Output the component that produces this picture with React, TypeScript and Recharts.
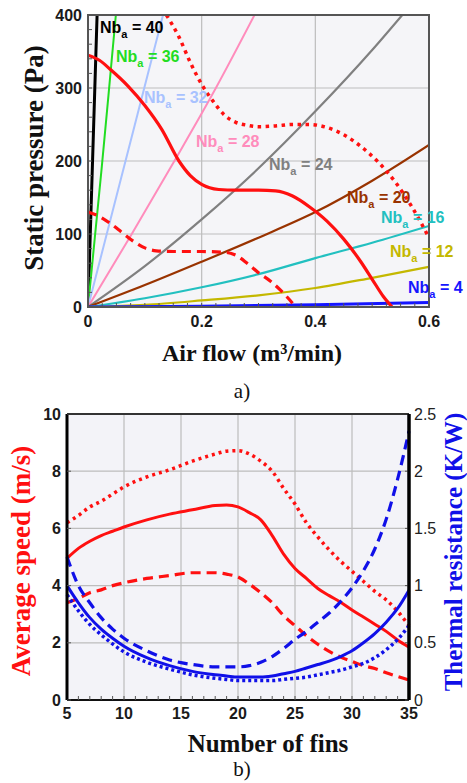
import { LineChart, Line, XAxis, YAxis, CartesianGrid } from "recharts"

// ---- a) fan curves vs. system curves ----
const flowTicks = [0, 0.2, 0.4, 0.6]
const flowMinorTicks = [
  0, 0.025, 0.05, 0.075, 0.1, 0.125, 0.15, 0.175, 0.2, 0.225, 0.25, 0.275, 0.3,
  0.325, 0.35, 0.375, 0.4, 0.425, 0.45, 0.475, 0.5, 0.525, 0.55, 0.575, 0.6,
]
const pressureTicks = [0, 100, 200, 300, 400]
const pressureMinorTicks = [
  0, 20, 40, 60, 80, 100, 120, 140, 160, 180, 200, 220, 240, 260, 280, 300, 320, 340, 360, 380, 400,
]

// [air flow m3/min, static pressure Pa]
const nb40 = [[0, 0], [0.004, 100], [0.008, 200], [0.012, 300], [0.016, 400]]
const nb36 = [[0, 0], [0.012, 95], [0.024, 190], [0.036, 290], [0.049, 400]]
const nb32 = [[0, 0], [0.033, 100], [0.066, 200], [0.099, 300], [0.132, 400]]
const nb28 = [[0, 0], [0.077, 100], [0.152, 200], [0.225, 300], [0.293, 400]]
const nb24 = [[0, 0], [0.1, 56], [0.2, 120], [0.3, 190], [0.4, 268], [0.5, 352], [0.553, 400]]
const nb20 = [[0, 0], [0.1, 30], [0.2, 62], [0.3, 95], [0.4, 130], [0.5, 173], [0.6, 222]]
const nb16 = [[0, 0], [0.1, 12], [0.2, 27], [0.3, 45], [0.4, 67], [0.5, 88], [0.6, 111]]
const nb12 = [[0, 0], [0.1, 3], [0.2, 9], [0.3, 16], [0.4, 26], [0.5, 40], [0.6, 55]]
const nb4 = [[0, 0], [0.2, 1], [0.4, 3], [0.6, 6]]

const fanSolid = [
  [0, 345], [0.02, 338], [0.04, 325], [0.07, 303], [0.1, 276], [0.13, 243], [0.16, 200],
  [0.18, 180], [0.2, 168], [0.23, 161], [0.26, 160], [0.3, 160], [0.33, 159], [0.36, 152],
  [0.39, 137], [0.42, 118], [0.45, 93], [0.48, 62], [0.5, 38], [0.52, 14], [0.535, 0],
]
const fanDotted = [
  [0.138, 400], [0.16, 370], [0.18, 335], [0.2, 305], [0.22, 282], [0.24, 263], [0.26, 253],
  [0.28, 249], [0.3, 247], [0.33, 248], [0.36, 250], [0.39, 250], [0.42, 246], [0.45, 236],
  [0.48, 220], [0.51, 199], [0.54, 172], [0.57, 137], [0.6, 95],
]
const fanDashed = [
  [0, 130], [0.02, 124], [0.04, 114], [0.06, 102], [0.08, 90], [0.1, 81], [0.12, 77],
  [0.15, 76], [0.2, 76], [0.24, 75], [0.26, 71], [0.28, 60], [0.3, 47], [0.32, 36],
  [0.34, 22], [0.36, 5], [0.365, 0],
]

// ---- b) speed and thermal resistance vs. number of fins ----
const fins = [5, 6, 7, 8, 9, 10, 12, 14, 16, 18, 19, 20, 21, 22, 23, 24, 25, 26, 27, 28, 29, 30, 31, 32, 33, 34, 35]
const finTicks = [5, 10, 15, 20, 25, 30, 35]
const finMinorTicks = [
  5, 6, 7, 8, 9, 10, 11, 12, 13, 14, 15, 16, 17, 18, 19, 20, 21, 22, 23, 24, 25, 26, 27, 28, 29, 30, 31, 32, 33, 34, 35,
]
const speedTicks = [0, 2, 4, 6, 8, 10]
const resistanceTicks = [0, 0.5, 1, 1.5, 2, 2.5]

const speedSolid = [4.95, 5.3, 5.55, 5.75, 5.9, 6.05, 6.3, 6.5, 6.65, 6.8, 6.82, 6.75, 6.55, 6.3, 5.75, 5.1, 4.6, 4.25, 3.9, 3.65, 3.42, 3.15, 2.9, 2.65, 2.4, 2.1, 1.85]
const speedDotted = [6.2, 6.45, 6.75, 6.95, 7.2, 7.45, 7.8, 8.05, 8.35, 8.6, 8.7, 8.72, 8.6, 8.35, 8.0, 7.4, 6.85, 6.2, 5.7, 5.25, 4.85, 4.5, 4.15, 3.8, 3.5, 3.1, 2.6]
const speedDashed = [3.4, 3.55, 3.75, 3.85, 4.0, 4.1, 4.25, 4.35, 4.45, 4.45, 4.4, 4.3, 4.05, 3.75, 3.4, 2.95, 2.6, 2.25, 1.95, 1.7, 1.5, 1.35, 1.2, 1.1, 0.95, 0.82, 0.7]
const resSolid = [1.0, 0.85, 0.72, 0.62, 0.54, 0.47, 0.37, 0.3, 0.25, 0.22, 0.21, 0.2, 0.2, 0.2, 0.21, 0.23, 0.25, 0.28, 0.31, 0.34, 0.38, 0.43, 0.5, 0.58, 0.68, 0.8, 0.96]
const resDashed = [1.25, 1.0, 0.85, 0.72, 0.62, 0.54, 0.43, 0.35, 0.31, 0.29, 0.29, 0.29, 0.3, 0.33, 0.38, 0.45, 0.53, 0.6, 0.68, 0.76, 0.86, 0.98, 1.13, 1.32, 1.58, 1.93, 2.35]
const resDotted = [0.92, 0.78, 0.66, 0.57, 0.49, 0.42, 0.33, 0.27, 0.22, 0.19, 0.18, 0.17, 0.17, 0.17, 0.17, 0.18, 0.19, 0.2, 0.22, 0.24, 0.26, 0.29, 0.32, 0.37, 0.44, 0.53, 0.65]

const serif = "'Liberation Serif', 'Times New Roman', serif"
const sans = "'Liberation Sans', Arial, sans-serif"
const RED = "#ff1010"
const BLUE = "#1010e8"

const pts = (arr: number[][]) => arr.map(([q, p]) => ({ q, p }))

const systemCurves = [
  { key: "nb40", data: nb40, color: "#000000", width: 3 },
  { key: "nb36", data: nb36, color: "#22dd22", width: 2 },
  { key: "nb32", data: nb32, color: "#a8c2ff", width: 2 },
  { key: "nb28", data: nb28, color: "#ff8cbc", width: 2 },
  { key: "nb24", data: nb24, color: "#808080", width: 2.2 },
  { key: "nb20", data: nb20, color: "#993300", width: 2.2 },
  { key: "nb16", data: nb16, color: "#22c0c0", width: 2.2 },
  { key: "nb12", data: nb12, color: "#c4b800", width: 2.2 },
  { key: "nb4", data: nb4, color: "#1515ff", width: 3 },
]

const nbLabels = [
  { n: 40, x: 100, y: 33, color: "#000000" },
  { n: 36, x: 116, y: 62, color: "#22dd22" },
  { n: 32, x: 144, y: 103, color: "#a8c2ff" },
  { n: 28, x: 196, y: 147, color: "#ff8cbc" },
  { n: 24, x: 269, y: 170, color: "#808080" },
  { n: 20, x: 347, y: 203, color: "#993300" },
  { n: 16, x: 381, y: 223, color: "#22c0c0" },
  { n: 12, x: 390, y: 257, color: "#c4b800" },
  { n: 4, x: 408, y: 293, color: "#1515ff" },
]

const tickStyle = { fontSize: 16, fontWeight: 700, fill: "#1a1a1a", fontFamily: sans }

function NbLabel({ n, x, y, color }: { n: number; x: number; y: number; color: string }) {
  return (
    <text x={x} y={y} fill={color} fontFamily={sans} fontWeight={700} fontSize={16}>
      Nb
      <tspan dy={5} fontSize={11}>a</tspan>
      <tspan dy={-5}>{` = ${n}`}</tspan>
    </text>
  )
}

export default function App() {
  const finTable = fins.map((n, i) => ({
    n,
    speedSolid: speedSolid[i],
    speedDotted: speedDotted[i],
    speedDashed: speedDashed[i],
    resSolid: resSolid[i],
    resDashed: resDashed[i],
    resDotted: resDotted[i],
  }))

  return (
    <div style={{ position: "absolute", left: 0, top: 0, width: 467, height: 783, background: "#fff" }}>
      <div style={{ position: "absolute", left: 0, top: 0 }}>
        <LineChart width={467} height={340} margin={{ top: 15, right: 38, bottom: 0, left: 0 }}>
          <CartesianGrid
            fill="#f5f5f8"
            stroke="#bdbdbd"
            strokeWidth={1.2}
            horizontalValues={[100, 200, 300]}
            verticalValues={[0.2, 0.4]}
          />
          <XAxis
            dataKey="q"
            type="number"
            domain={[0, 0.6]}
            ticks={flowMinorTicks}
            interval={0}
            allowDataOverflow
            height={33}
            axisLine={false}
            tickSize={-4}
            tickMargin={13}
            tickLine={{ stroke: "#555" }}
            tick={tickStyle}
            tickFormatter={(v: number) => (flowTicks.includes(v) ? String(v) : "")}
          />
          <YAxis
            type="number"
            domain={[0, 400]}
            ticks={pressureMinorTicks}
            interval={0}
            allowDataOverflow
            width={88}
            axisLine={false}
            tickSize={-4}
            tickMargin={10}
            tickLine={{ stroke: "#555" }}
            tick={tickStyle}
            tickFormatter={(v: number) => (pressureTicks.includes(v) ? String(v) : "")}
          />
          {systemCurves.map((c) => (
            <Line
              key={c.key}
              data={pts(c.data)}
              dataKey="p"
              type="monotone"
              stroke={c.color}
              strokeWidth={c.width}
              dot={false}
              isAnimationActive={false}
            />
          ))}
          <Line data={pts(fanDashed)} dataKey="p" type="monotone" stroke={RED} strokeWidth={3.2}
            strokeDasharray="9 6" dot={false} isAnimationActive={false} />
          <Line data={pts(fanSolid)} dataKey="p" type="monotone" stroke={RED} strokeWidth={3.2}
            dot={false} isAnimationActive={false} />
          <Line data={pts(fanDotted)} dataKey="p" type="monotone" stroke={RED} strokeWidth={3.5}
            strokeDasharray="3.5 4.5" dot={false} isAnimationActive={false} />
        </LineChart>
      </div>

      <div style={{ position: "absolute", left: 0, top: 390 }}>
        <LineChart width={467} height={340} data={finTable} margin={{ top: 24, right: 0, bottom: 0, left: 0 }}>
          <CartesianGrid
            yAxisId="speed"
            fill="#f3f3f8"
            stroke="#bdbdbd"
            strokeWidth={1.2}
            horizontalValues={[2, 4, 6, 8]}
            verticalValues={[10, 15, 20, 25, 30]}
          />
          <XAxis
            dataKey="n"
            type="number"
            domain={[5, 35]}
            ticks={finMinorTicks}
            interval={0}
            height={30}
            axisLine={{ stroke: "#111", strokeWidth: 2 }}
            tickSize={-4}
            tickMargin={12}
            tickLine={{ stroke: "#555" }}
            tick={tickStyle}
            tickFormatter={(v: number) => (finTicks.includes(v) ? String(v) : "")}
          />
          <YAxis
            yAxisId="speed"
            type="number"
            domain={[0, 10]}
            ticks={speedTicks}
            interval={0}
            width={67}
            axisLine={{ stroke: "#000", strokeWidth: 3 }}
            tickSize={-4}
            tickMargin={10}
            tickLine={{ stroke: "#555" }}
            tick={tickStyle}
          />
          <YAxis
            yAxisId="res"
            orientation="right"
            type="number"
            domain={[0, 2.5]}
            ticks={resistanceTicks}
            interval={0}
            width={58}
            axisLine={{ stroke: "#000", strokeWidth: 3 }}
            tickSize={-4}
            tickMargin={9}
            tickLine={{ stroke: "#555" }}
            tick={{ ...tickStyle, fontWeight: 400, fill: "#222" }}
          />
          <Line yAxisId="speed" dataKey="speedDotted" type="monotone" stroke={RED} strokeWidth={3.5}
            strokeDasharray="3 4" dot={false} isAnimationActive={false} />
          <Line yAxisId="speed" dataKey="speedSolid" type="monotone" stroke={RED} strokeWidth={3}
            dot={false} isAnimationActive={false} />
          <Line yAxisId="speed" dataKey="speedDashed" type="monotone" stroke={RED} strokeWidth={3.2}
            strokeDasharray="10 6" dot={false} isAnimationActive={false} />
          <Line yAxisId="res" dataKey="resDotted" type="monotone" stroke={BLUE} strokeWidth={3.5}
            strokeDasharray="3 3" dot={false} isAnimationActive={false} />
          <Line yAxisId="res" dataKey="resSolid" type="monotone" stroke={BLUE} strokeWidth={3}
            dot={false} isAnimationActive={false} />
          <Line yAxisId="res" dataKey="resDashed" type="monotone" stroke={BLUE} strokeWidth={3.2}
            strokeDasharray="10 6" dot={false} isAnimationActive={false} />
        </LineChart>
      </div>

      <svg width={467} height={783} style={{ position: "absolute", left: 0, top: 0, pointerEvents: "none" }}>
        {/* frames */}
        <rect x={88} y={15} width={341} height={292} fill="none" stroke="#555" strokeWidth={2} />
        <line x1={67} y1={414} x2={409} y2={414} stroke="#333" strokeWidth={2} />
        <line x1={409} y1={414} x2={409} y2={700} stroke="#000" strokeWidth={3} />

        {nbLabels.map((l) => (
          <NbLabel key={l.n} {...l} />
        ))}

        <text transform="translate(43 158) rotate(-90)" textAnchor="middle" fontFamily={serif}
          fontWeight={700} fontSize={27} fill="#111">
          Static pressure (Pa)
        </text>
        <text x={252} y={361} textAnchor="middle" fontFamily={serif} fontWeight={700} fontSize={24} fill="#111">
          Air flow (m³/min)
        </text>
        <text x={242} y={398} textAnchor="middle" fontFamily={serif} fontSize={21} fill="#111">
          a)
        </text>

        <text transform="translate(30 561) rotate(-90)" textAnchor="middle" fontFamily={serif}
          fontWeight={700} fontSize={27} fill={RED}>
          Average speed (m/s)
        </text>
        <text transform="translate(462 552) rotate(-90)" textAnchor="middle" fontFamily={serif}
          fontWeight={700} fontSize={25} fill={BLUE}>
          Thermal resistance (K/W)
        </text>
        <text x={268} y={752} textAnchor="middle" fontFamily={serif} fontWeight={700} fontSize={25} fill="#111">
          Number of fins
        </text>
        <text x={242} y={776} textAnchor="middle" fontFamily={serif} fontSize={21} fill="#111">
          b)
        </text>
      </svg>
    </div>
  )
}
